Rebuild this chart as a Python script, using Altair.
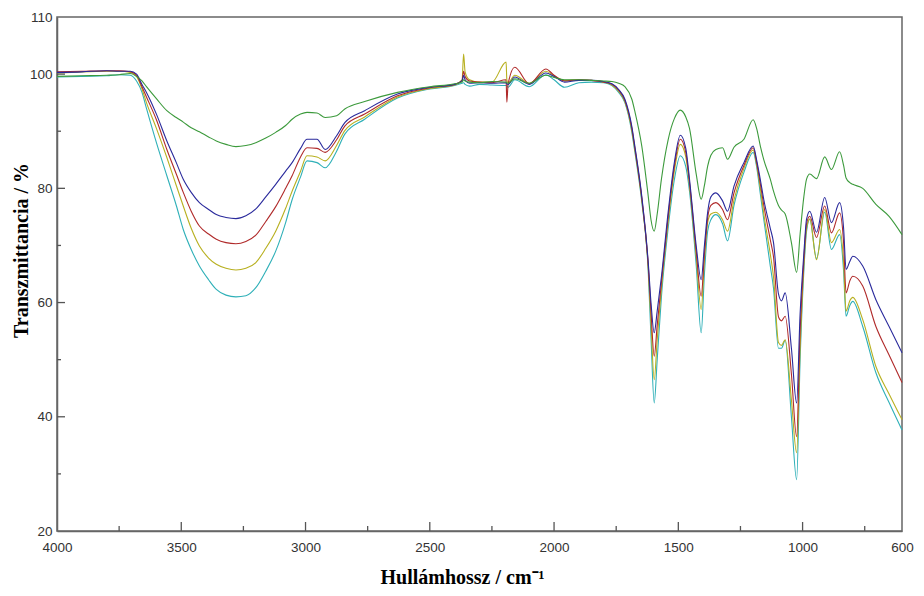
import altair as alt
import pandas as pd

wavenumber = [4000, 3900, 3800, 3750, 3705, 3680, 3658, 3640, 3600, 3558, 3520, 3492, 3460, 3427,
              3390, 3359, 3320, 3280, 3240, 3200, 3160, 3120, 3080, 3054, 3020, 2994, 2954, 2921,
              2875, 2842, 2762, 2630, 2500,
              2400, 2370, 2364, 2358, 2340, 2300, 2250, 2193, 2190, 2185, 2158, 2100, 2033, 2000,
              1958, 1900, 1850, 1800, 1767, 1740, 1715, 1687, 1675, 1647, 1621, 1610, 1597, 1585,
              1568, 1541, 1516, 1492, 1470, 1455, 1428, 1408, 1395, 1382, 1369, 1349, 1322, 1302,
              1276, 1236, 1199, 1185, 1170, 1156, 1130, 1117,
              1097, 1085, 1070, 1045, 1024, 1010, 995, 984, 971, 944, 911, 884, 851, 835, 825, 810,
              798, 758, 705, 652, 600]

green = [99.6, 99.7, 99.8, 99.9, 100.1, 99.6, 98.8, 97.8, 95.7, 93.6, 92.4, 91.6, 90.6, 89.9,
         89.0, 88.3, 87.7, 87.3, 87.5, 88.0, 88.8, 89.8, 91.0, 92.1, 93.0, 93.3, 93.2, 92.4,
         92.7, 93.9, 95.2, 96.8, 97.8,
         98.3, 98.6, 99.0, 98.8, 98.6, 98.5, 98.7, 98.6, 98.5, 98.4, 99.2, 98.4, 99.8, 99.4,
         99.0, 99.0, 98.9, 98.8, 98.7, 98.4, 97.8, 95.6, 93.5, 87.4, 78.6, 74.5, 72.5, 75.5,
         81.6, 88.5, 92.2, 93.7, 92.5, 90.5, 82.5, 78.1, 80.5, 83.9, 85.8, 86.8, 87.1, 85.1,
         87.2, 88.6, 92.0, 90.5, 87.4, 85.0, 81.6, 79.5,
         77.0, 76.2, 75.5, 70.5, 65.3, 72.0, 78.5, 81.6, 82.5, 81.7, 85.5, 83.3, 86.4, 84.0, 81.8, 81.0,
         80.7, 80.0, 77.2, 75.1, 71.9]

blue = [100.3, 100.4, 100.6, 100.5, 100.5, 100.0, 98.2, 96.8, 93.0, 88.3, 84.5, 81.6, 79.3, 77.5,
        76.3, 75.4, 74.9, 74.7, 75.2, 76.4, 78.5, 80.7, 83.0, 84.5, 87.0, 88.6, 88.6, 86.8,
        89.2, 91.5, 93.6, 96.5, 97.7,
        98.2, 98.8, 99.8, 99.0, 98.4, 98.5, 98.4, 98.5, 98.3, 98.2, 99.5, 98.2, 100.2, 99.6,
        98.6, 98.9, 98.9, 98.7, 98.3, 97.3, 95.6, 90.8, 87.4, 78.6, 67.0, 60.0, 54.7, 58.5,
        64.5, 75.8, 84.5, 89.3, 87.0, 81.6, 69.9, 64.0, 70.0, 75.8, 78.5, 79.2, 77.8, 76.0,
        80.4, 84.5, 87.4, 85.0, 81.5, 78.0, 73.0, 70.5,
        61.5, 60.3, 61.7, 52.0, 42.4, 58.0, 68.5, 74.6, 76.0, 72.3, 78.4, 74.0, 77.5, 73.0, 65.8, 67.2,
        68.1, 66.4, 60.5, 55.8, 51.2]

red = [100.4, 100.5, 100.6, 100.6, 100.4, 99.8, 97.8, 96.0, 92.0, 86.8, 82.5, 79.3, 76.0, 73.4,
       72.0, 71.1, 70.5, 70.3, 70.7, 71.8, 74.2, 76.8, 80.0, 82.2, 85.5, 87.1, 87.0, 86.3,
       88.5, 90.9, 93.0, 96.2, 97.6,
       98.2, 98.9, 100.5, 99.6, 98.8, 98.6, 98.5, 99.0, 95.1, 98.2, 101.2, 98.3, 100.9, 99.8,
       98.8, 99.0, 98.9, 98.6, 98.2, 97.2, 95.4, 90.5, 87.1, 78.3, 66.5, 58.5, 50.6, 56.0,
       63.5, 75.0, 83.8, 88.6, 86.3, 81.0, 69.0, 61.1, 68.5, 74.8, 77.0, 77.5, 76.3, 74.5,
       79.2, 84.0, 87.1, 84.6, 80.8, 77.0, 71.0, 68.0,
       57.5, 56.8, 57.6, 47.5, 36.5, 55.0, 67.5, 73.8, 75.1, 71.4, 76.9, 72.2, 75.7, 70.5, 61.7, 63.8,
       64.6, 62.9, 55.8, 50.8, 46.0]

olive = [100.2, 100.4, 100.5, 100.5, 100.3, 99.6, 97.4, 95.0, 90.5, 85.4, 80.5, 76.9, 73.0, 69.9,
         67.8, 66.7, 66.0, 65.7, 66.0, 67.0, 69.5, 72.5, 76.5, 79.5, 83.0, 85.7, 85.5, 84.8,
         87.5, 90.1, 92.5, 96.0, 97.5,
         98.1, 99.0, 103.5, 100.4, 99.0, 98.6, 98.6, 102.1, 99.0, 98.5, 99.8, 98.4, 100.5, 99.7,
         98.9, 99.0, 98.9, 98.6, 98.1, 97.0, 95.2, 90.2, 86.8, 78.0, 66.0, 56.5, 46.5, 53.5,
         62.5, 74.2, 83.0, 87.7, 85.5, 80.5, 68.0, 58.8, 67.5, 74.0, 75.5, 75.8, 74.5, 72.5,
         78.0, 83.5, 86.7, 84.2, 80.0, 75.5, 68.5, 64.5,
         53.0, 52.5, 53.5, 43.0, 33.7, 52.0, 66.5, 73.0, 74.6, 67.5, 76.3, 70.5, 72.8, 67.0, 58.5, 60.3,
         60.9, 57.0, 48.8, 44.0, 39.5]

cyan = [99.5, 99.6, 99.7, 99.9, 99.8, 98.8, 96.8, 94.0, 88.0, 82.2, 77.0, 72.8, 69.3, 66.4,
        64.0, 62.3, 61.3, 61.0, 61.2, 62.6, 65.5, 69.0, 74.0, 78.0, 82.0, 84.8, 84.5, 83.6,
        86.5, 89.5, 92.1, 95.8, 97.4,
        98.0, 98.4, 98.5, 98.2, 97.9, 98.2, 98.1, 98.0, 98.0, 97.7, 99.0, 97.8, 99.9, 99.0,
        97.7, 98.5, 98.6, 98.5, 98.0, 96.8, 95.0, 89.8, 86.4, 77.6, 65.4, 54.0, 42.4, 50.0,
        61.0, 73.0, 81.5, 85.7, 83.8, 79.5, 66.5, 54.7, 65.0, 72.5, 74.5, 75.4, 73.8, 70.8,
        77.0, 82.8, 86.3, 83.8, 79.0, 74.5, 66.4, 62.5,
        52.0, 52.0, 53.4, 40.0, 29.0, 50.0, 65.5, 72.5, 74.6, 67.7, 75.8, 69.3, 71.9, 65.5, 57.6, 59.5,
        60.2, 55.8, 47.7, 42.5, 37.7]

series_names = ["cyan", "olive", "red", "blue", "green"]
series_colors = ["#2fb0b8", "#b8b020", "#b02a2a", "#2a2a9c", "#3c9a3c"]

x_labels = [4000, 3500, 3000, 2500, 2000, 1500, 1000, 600]
x_major = [3500, 3000, 2500, 2000, 1500, 1000]
x_minor = [3750, 3250, 2750, 2250, 1750, 1250, 750]
y_labels = [20, 40, 60, 80, 100, 110]
y_major = [40, 60, 80, 100]
y_minor = [30, 50, 70, 90]

W, H = 845, 514

values = {"cyan": cyan, "olive": olive, "red": red, "blue": blue, "green": green}
rows = []
for name in series_names:
    assert len(values[name]) == len(wavenumber), name
    for w, v in zip(wavenumber, values[name]):
        rows.append({"wn": w, "T": v, "series": name})
df = pd.DataFrame(rows)

xscale = alt.Scale(domain=[600, 4000], reverse=True, nice=False, zero=False)
yscale = alt.Scale(domain=[20, 110], nice=False, zero=False)

xaxis = alt.Axis(values=x_labels, title="Hullámhossz / cm⁻¹", titleX=405, titleY=52,
                 titleAlign="center", titleBaseline="alphabetic", labelPadding=9,
                 labelFlush=False, labelOverlap=False, format="d")
yaxis = alt.Axis(values=y_labels, title="Transzmittancia / %", titleX=-36, titleY=233,
                 titleAngle=270, titleAlign="center", titleBaseline="middle",
                 labelPadding=5, labelOverlap=False, labelFlush=False, format="d")

X = alt.X("wn:Q", scale=xscale, axis=xaxis)
Y = alt.Y("T:Q", scale=yscale, axis=yaxis)

lines = alt.Chart(df).mark_line(strokeWidth=1.1, interpolate="monotone").encode(
    x=X, y=Y,
    color=alt.Color("series:N", scale=alt.Scale(domain=series_names, range=series_colors), legend=None),
    order=alt.Order("wn:Q", sort="descending"),
)

xt = pd.DataFrame({"wn": x_major + x_minor, "kind": ["major"] * len(x_major) + ["minor"] * len(x_minor)})
yt = pd.DataFrame({"T": y_major + y_minor, "kind": ["major"] * len(y_major) + ["minor"] * len(y_minor)})

xtick_major = alt.Chart(xt).transform_filter("datum.kind == 'major'").mark_rule(color="#555", strokeWidth=1.3).encode(
    x=X, y=alt.value(H), y2=alt.value(H - 9))
xtick_minor = alt.Chart(xt).transform_filter("datum.kind == 'minor'").mark_rule(color="#555", strokeWidth=1.3).encode(
    x=X, y=alt.value(H), y2=alt.value(H - 5))
ytick_major = alt.Chart(yt).transform_filter("datum.kind == 'major'").mark_rule(color="#555", strokeWidth=1.3).encode(
    y=Y, x=alt.value(0), x2=alt.value(8))
ytick_minor = alt.Chart(yt).transform_filter("datum.kind == 'minor'").mark_rule(color="#555", strokeWidth=1.3).encode(
    y=Y, x=alt.value(0), x2=alt.value(4))

chart = alt.layer(lines, xtick_major, xtick_minor, ytick_major, ytick_minor).properties(
    width=W, height=H,
    autosize=alt.AutoSizeParams(type="none"),
    padding={"left": 49, "top": 9, "right": 14, "bottom": 57},
).configure_view(
    stroke="#666", strokeWidth=1.5
).configure_axis(
    grid=False, ticks=False, tickSize=0, domainColor="#666", domainWidth=1.5,
    labelFont="Liberation Sans", labelFontSize=13.5, labelColor="#333",
    titleFont="Liberation Serif", titleFontSize=20, titleFontWeight="bold", titleColor="#000",
)

chart.save("out.html", embed_options={"renderer": "svg", "actions": False})
